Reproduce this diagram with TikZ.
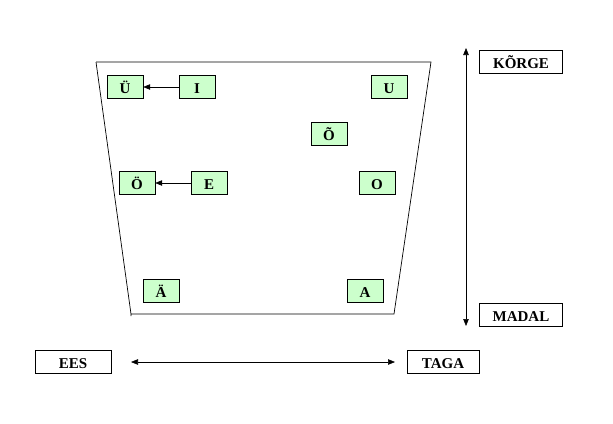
\documentclass[tikz,border=0pt]{standalone}
\usepackage{fontspec}
\setmainfont{Liberation Serif}
\usetikzlibrary{arrows.meta}
\definecolor{vgreen}{HTML}{CCFFCC}
\begin{document}
\begin{tikzpicture}[x=1pt,y=-1pt,
  vowel/.style={draw=black,fill=vgreen,minimum width=36pt,minimum height=23pt,inner sep=0pt,text height=12pt,text depth=0pt,font=\bfseries\fontsize{15}{17}\selectfont},
  lab/.style={draw=black,fill=white,minimum height=23pt,inner sep=0pt,text height=12pt,text depth=0pt,font=\bfseries\fontsize{15}{17}\selectfont},
  arr/.style={-{Triangle[length=7pt,width=5.5pt]},line width=0.6pt},
  darr/.style={{Triangle[length=7pt,width=5.5pt]}-{Triangle[length=7pt,width=5.5pt]},line width=0.6pt}]
\useasboundingbox (0,0) rectangle (613,423);
\draw[line width=0.7pt] (96,62) coordinate (tl) -- (431,62) coordinate (tr) -- (394,314) coordinate (br) -- (131,314) coordinate (bl) -- (131,316);
\draw[line width=0.7pt] (tl) -- (bl);
\node[vowel] (Uu) at (125,87) {Ü};
\node[vowel] (I) at (197,87) {I};
\node[vowel] (U) at (389,87) {U};
\node[vowel] (Ot) at (329,134) {Õ};
\node[vowel] (Oo) at (137,183) {Ö};
\node[vowel] (E) at (209,183) {E};
\node[vowel] (O) at (377,183) {O};
\node[vowel] (Aa) at (161,291) {Ä};
\node[vowel] (A) at (365,291) {A};
\draw[arr] (I) -- (Uu);
\draw[arr] (E) -- (Oo);
\node[lab,minimum width=83pt] (korge) at (521,62) {KÕRGE};
\node[lab,minimum width=83pt] (madal) at (521,315) {MADAL};
\node[lab,minimum width=76pt] (ees) at (73,362) {EES};
\node[lab,minimum width=72pt] (taga) at (443,362) {TAGA};
\coordinate (vt) at (466,48);
\coordinate (vb) at (466,326);
\coordinate (hl) at (131,362);
\coordinate (hr) at (395,362);
\draw[darr] (vt) -- (vb);
\draw[darr] (hl) -- (hr);
\end{tikzpicture}
\end{document}
